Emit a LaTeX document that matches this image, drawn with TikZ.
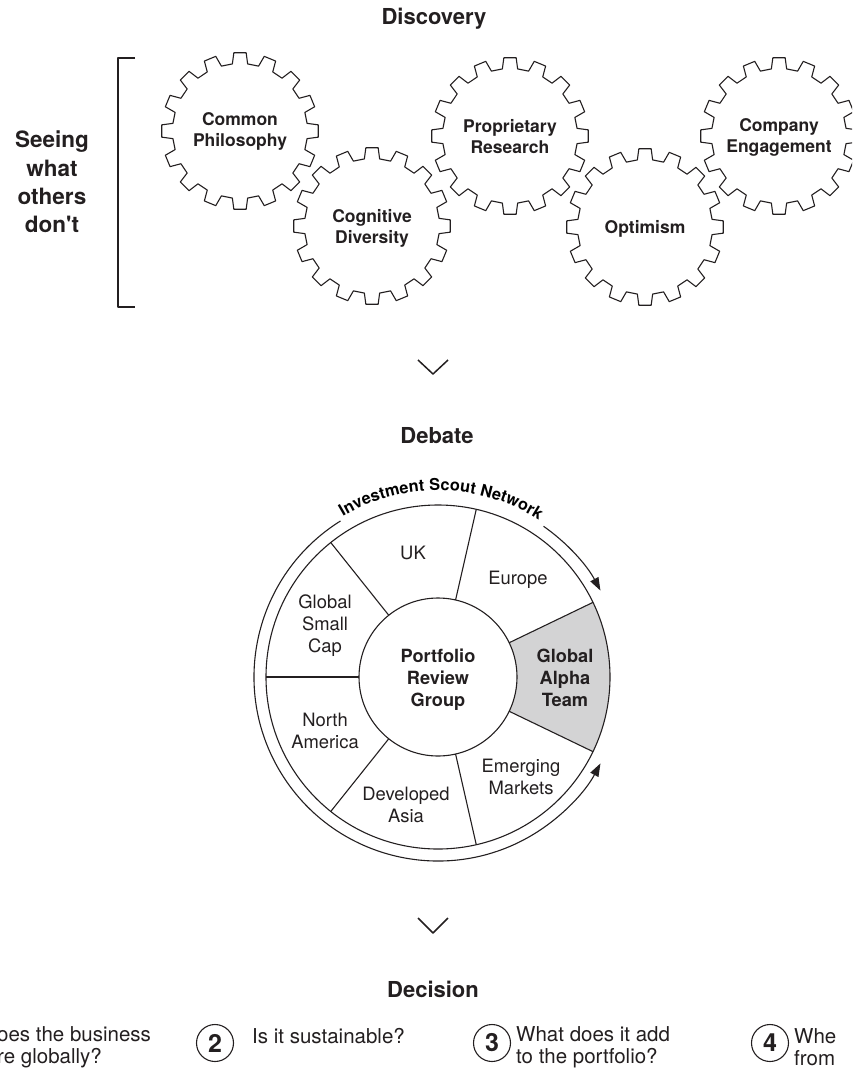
\documentclass[tikz,border=0pt]{standalone}
\usepackage{fontspec}
\setmainfont{TeX Gyre Heros}
\usetikzlibrary{arrows.meta,decorations.text}
\definecolor{ink}{RGB}{35,31,32}
\definecolor{sector}{RGB}{211,211,212}
\begin{document}
\begin{tikzpicture}[x=1pt,y=-1pt, line join=round, color=ink,
  heading/.style={font=\fontsize{22}{26}\selectfont\bfseries},
  side/.style={font=\fontsize{22.5}{28.3}\selectfont\bfseries, align=center},
  gearlabel/.style={font=\fontsize{17.5}{21}\selectfont\bfseries, align=center},
  wheellabel/.style={font=\fontsize{18.4}{22}\selectfont, align=center},
  wheelbold/.style={font=\fontsize{18.2}{22}\selectfont\bfseries, align=center},
  question/.style={font=\fontsize{20.5}{22.5}\selectfont, align=left, anchor=west, inner sep=0pt},
  numcircle/.style={circle, draw=ink, line width=1.1pt, minimum size=37pt, inner sep=0pt,
    font=\fontsize{25}{25}\selectfont\bfseries},
  chevron/.style={draw=ink, line width=1.5pt},
  gearline/.style={draw=ink, line width=1.1pt},
  wheelline/.style={draw=ink, line width=1.1pt},
  scoutarrow/.style={wheelline, -{Triangle[length=13pt,width=9pt]}},
  pics/gear/.style={code={
    \draw[gearline] (-6.5:67.5) \foreach \k in {0,...,15}{
      -- ({\k*22.5-6.5}:67.5) -- ({\k*22.5-4.5}:78.5) -- ({\k*22.5+4.5}:78.5) -- ({\k*22.5+6.5}:67.5)} -- cycle;
  }}
]
\useasboundingbox (0,0) rectangle (852,1074);
\clip (0,0) rectangle (852,1074);

% ---------- Discovery ----------
\node[heading] (disc) at (434,19) {Discovery};

\draw[wheelline] (135,58) -- (118,58) -- (118,307) -- (135,307);
\node[side] (seeing) at (52,182) {Seeing\\what\\others\\don\textquotesingle t};

\pic (g1) at (240,131) {gear};
\pic (g2) at (372,226) {gear};
\pic (g3) at (510,136) {gear};
\pic (g4) at (645,227) {gear};
\pic (g5) at (779,136) {gear};
\node[gearlabel] (cp) at (240,131) {Common\\Philosophy};
\node[gearlabel] (cd) at (372,228) {Cognitive\\Diversity};
\node[gearlabel] (pr) at (510,137) {Proprietary\\Research};
\node[gearlabel] (op) at (645,229) {Optimism};
\node[gearlabel] (ce) at (779,137) {Company\\Engagement};

\draw[chevron] (418,360) -- (433,374) -- (448,360);

% ---------- Debate ----------
\node[heading] (deb) at (437,436) {Debate};

\begin{scope}[shift={(438,677)}]
  \fill[sector] (-25.714:79) arc[start angle=-25.714, end angle=25.714, radius=79]
    -- (25.714:172) arc[start angle=25.714, end angle=-25.714, radius=172] -- cycle;
  \draw[wheelline] (0,0) circle[radius=172];
  \draw[wheelline] (0,0) circle[radius=79];
  \foreach \a in {25.714,77.143,128.571,180,231.429,282.857,334.286}
    \draw[wheelline] (\a:79) -- (\a:172);
  \draw[scoutarrow] (-55:184) arc[start angle=-55, end angle=-28, radius=184];
  \draw[scoutarrow] (-122:184) arc[start angle=-122, end angle=-332, radius=184];
  \path[decorate, decoration={text along path, text align=center, raise=1.5pt,
      text={|\fontsize{16.3}{19}\selectfont\bfseries|Investment Scout Network}}]
    (-126:185) arc[start angle=-126, end angle=-52, radius=185];
\end{scope}

\node[wheelbold] (prg) at (438,680) {Portfolio\\Review\\Group};
\node[wheellabel] (uk) at (413,553) {UK};
\node[wheellabel] (eu) at (518,580) {Europe};
\node[wheelbold] (gat) at (565,678) {Global\\Alpha\\Team};
\node[wheellabel] (em) at (521,777) {Emerging\\Markets};
\node[wheellabel] (da) at (406,805) {Developed\\Asia};
\node[wheellabel] (na) at (325,731) {North\\America};
\node[wheellabel] (gsc) at (325,626) {Global\\Small\\Cap};

\draw[chevron] (418,918) -- (433,933) -- (448,918);

% ---------- Decision ----------
\node[heading] (deci) at (433,989) {Decision};

\node[question] (q1) at (-3,1047) {oes the business\\re globally?};
\node[numcircle] (n2) at (215,1043) {2};
\node[question] (q2) at (252,1036) {Is it sustainable?};
\node[numcircle] (n3) at (492,1043) {3};
\node[question] (q3) at (516,1047) {What does it add\\to the portfolio?};
\node[numcircle] (n4) at (770,1043) {4};
\node[question] (q4) at (794,1047) {Whe\\from};
\end{tikzpicture}
\end{document}
